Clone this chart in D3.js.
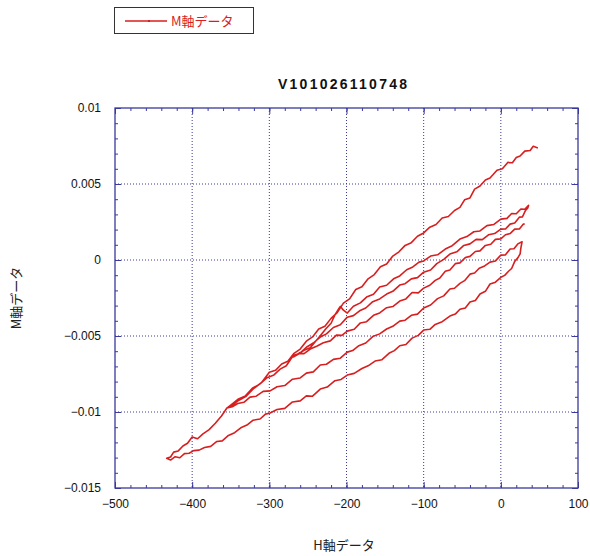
<!DOCTYPE html>
<html>
<head>
<meta charset="utf-8">
<script src="https://cdn.jsdelivr.net/npm/d3@7"></script>
<style>
body { margin: 0; background: #fff; }
</style>
</head>
<body>
<div id="chart"></div>
<script>
// ---- data (H, M) pairs, one array per sweep ----
let sweepA = [[48,0.00737],[42,0.00748],[38,0.0072],[31,0.00716],[25,0.00684],[20,0.00674],[15,0.0064],[9,0.00642],[2,0.006],[-5,0.00591],[-14,0.0054],[-20,0.00526],[-27,0.00487],[-34,0.00466],[-40,0.00408],[-47,0.00396],[-53,0.00346],[-60,0.00326],[-68,0.00286],[-76,0.00276],[-84,0.00234],[-92,0.00216],[-100,0.00178],[-108,0.00156],[-116,0.00114],[-124,0.00096],[-132,0.00054],[-140,0.00026],[-148,-0.00026],[-156,-0.00044],[-164,-0.00096],[-172,-0.00124],[-180,-0.00176],[-188,-0.00194],[-196,-0.00256],[-204,-0.00284],[-212,-0.00346],[-220,-0.00384],[-228,-0.00436],[-236,-0.00454],[-244,-0.00506],[-252,-0.00534],[-260,-0.00586],[-268,-0.00614],[-276,-0.00666],[-284,-0.00684],[-292,-0.00726],[-300,-0.00739],[-310,-0.00806],[-320,-0.00844],[-330,-0.00896],[-340,-0.00924],[-348,-0.00956],[-355,-0.00974],[-362,-0.01026],[-370,-0.01074],[-378,-0.01116],[-386,-0.01144],[-393,-0.01176],[-400,-0.01164],[-406,-0.01206],[-412,-0.01224],[-418,-0.01256],[-424,-0.01264],[-428,-0.01296],[-433,-0.01305]];
let sweepF = [[-433,-0.01305],[-428,-0.01316],[-422,-0.01294],[-416,-0.01301],[-410,-0.01274],[-404,-0.01271],[-398,-0.01254],[-391,-0.01251],[-384,-0.01234],[-376,-0.01226],[-368,-0.01194],[-361,-0.0119],[-353,-0.01154],[-345,-0.01136],[-337,-0.01104],[-329,-0.01086],[-321,-0.01054],[-312,-0.01046],[-305,-0.01014],[-299,-0.01006],[-290,-0.00984],[-280,-0.00976],[-270,-0.00934],[-260,-0.00927],[-252,-0.00894],[-244,-0.00896],[-234,-0.00849],[-225,-0.00836],[-215,-0.00794],[-207,-0.00786],[-199,-0.00757],[-190,-0.00746],[-180,-0.00714],[-172,-0.00696],[-163,-0.00665],[-154,-0.00656],[-145,-0.00614],[-138,-0.00596],[-131,-0.00564],[-123,-0.00556],[-115,-0.00514],[-107,-0.00496],[-100,-0.00461],[-92,-0.00456],[-85,-0.00424],[-76,-0.00406],[-66,-0.00369],[-59,-0.00356],[-53,-0.00324],[-46,-0.00316],[-40,-0.00277],[-33,-0.00266],[-27,-0.00224],[-20,-0.00206],[-14,-0.00158],[-7,-0.00146],[0,-0.00114],[5,-0.00101],[10,-0.00074],[14,-0.00056],[18,-0.00009],[22,0.00014],[25,0.0004],[26,0.0008],[27.5,0.0012]];
let sweepE = [[27.5,0.0012],[22,0.00106],[17,0.00074],[12,0.00072],[6,0.00034],[0,0.00032],[-7,-0.00006],[-14,-0.00014],[-21,-0.00039],[-28,-0.00054],[-34,-0.00086],[-40,-0.00093],[-47,-0.00136],[-53,-0.00154],[-60,-0.00186],[-66,-0.00191],[-74,-0.00236],[-82,-0.00254],[-91,-0.00296],[-100,-0.00316],[-108,-0.00356],[-116,-0.00364],[-124,-0.00396],[-131,-0.00402],[-140,-0.00436],[-148,-0.00454],[-157,-0.00486],[-166,-0.00504],[-175,-0.00546],[-184,-0.00564],[-192,-0.00596],[-199,-0.00606],[-208,-0.00646],[-217,-0.00654],[-226,-0.00686],[-234,-0.00691],[-243,-0.00736],[-252,-0.00744],[-260,-0.00776],[-270,-0.00784],[-280,-0.00826],[-290,-0.00834],[-299,-0.00861],[-308,-0.00864],[-317,-0.00896],[-325,-0.00902],[-333,-0.00936],[-341,-0.00944],[-348,-0.00966],[-355,-0.00974]];
let sweepB = [[-355,-0.00974],[-348,-0.00946],[-340,-0.00914],[-331,-0.00894],[-322,-0.00844],[-312,-0.00815],[-303,-0.00774],[-294,-0.00756],[-286,-0.00718],[-278,-0.00696],[-269,-0.00629],[-262,-0.00616],[-255,-0.00594],[-247,-0.00578],[-240,-0.00534],[-234,-0.00499],[-227,-0.00454],[-220,-0.00416],[-215,-0.00362],[-210,-0.0032],[-208,-0.00305],[-204,-0.0033],[-199,-0.00349],[-191,-0.00304],[-182,-0.00282],[-174,-0.00244],[-165,-0.00226],[-157,-0.00178],[-148,-0.00166],[-139,-0.00124],[-131,-0.00105],[-122,-0.00064],[-114,-0.00046],[-106,-0.00014],[-100,-0.00006],[-91,0.00026],[-82,0.00034],[-72,0.00072],[-63,0.00094],[-53,0.00138],[-44,0.00154],[-35,0.00186],[-27,0.00191],[-18,0.00226],[-9,0.00234],[0,0.00269],[8,0.00274],[14,0.00306],[20,0.00304],[26,0.00336],[31,0.00334],[35,0.00355],[36,0.0036]];
let sweepC = [[36,0.0036],[35,0.00343],[32,0.00326],[28,0.00284],[24,0.00282],[18,0.00244],[12,0.00236],[6,0.00204],[0,0.00203],[-8,0.00174],[-16,0.00166],[-24,0.00134],[-32,0.00136],[-40,0.00106],[-48,0.00096],[-57,0.00054],[-66,0.00039],[-74,0.00004],[-83,-0.00024],[-91,-0.00066],[-100,-0.0008],[-108,-0.00116],[-116,-0.00124],[-124,-0.00156],[-131,-0.00165],[-140,-0.00206],[-148,-0.00224],[-157,-0.00256],[-166,-0.00274],[-175,-0.00316],[-183,-0.00334],[-191,-0.00366],[-199,-0.00376],[-208,-0.00426],[-217,-0.00444],[-226,-0.00486],[-234,-0.00507],[-243,-0.00546],[-252,-0.00574],[-261,-0.00616],[-269,-0.00638]];
let sweepD = [[-269,-0.00638],[-262,-0.00614],[-255,-0.00616],[-247,-0.00586],[-238,-0.00566],[-230,-0.00544],[-221,-0.00532],[-213,-0.00494],[-206,-0.00496],[-199,-0.00468],[-190,-0.00456],[-182,-0.00414],[-174,-0.00406],[-165,-0.00364],[-157,-0.00348],[-148,-0.00314],[-140,-0.00306],[-131,-0.0027],[-123,-0.00256],[-115,-0.00214],[-107,-0.00216],[-100,-0.00185],[-92,-0.00166],[-85,-0.00134],[-79,-0.00118],[-72,-0.00074],[-66,-0.00066],[-59,-0.00024],[-53,-0.00019],[-46,0.00016],[-40,0.00024],[-33,0.00056],[-27,0.0006],[-20,0.00096],[-13,0.00104],[-7,0.00136],[0,0.00139],[6,0.00166],[12,0.00174],[18,0.00203],[24,0.00204],[29,0.00236],[31,0.00237]];

let xTicks = [-500, -400, -300, -200, -100, 0, 100];
let yTicks = [-0.015, -0.01, -0.005, 0, 0.005, 0.01];
let xMinor = d3.range(-500, 101, 20);
let yMinor = d3.range(-15, 11).map(d => d / 1000);

let titleText = "V101026110748";
let seriesName = "M軸データ";
let xLabel = "H軸データ";
let yLabel = "M軸データ";

// ---- layout ----
let width = 590;
let height = 556;
let plot = { left: 115, right: 578, top: 108, bottom: 488 };
let axisColor = "#3a3a9c";
let lineColor = "#d81e1e";
let font = "'Liberation Sans', Arial, sans-serif";
let cjk = "'Noto Sans CJK JP', sans-serif";

function translate (x, y) {
    return `translate(${ x }, ${ y })`;
}

let svg = d3.select("#chart").append("svg")
    .attr("width", width)
    .attr("height", height);

let xScale = d3.scaleLinear().domain([-500, 100]).range([plot.left, plot.right]);
let yScale = d3.scaleLinear().domain([-0.015, 0.01]).range([plot.bottom, plot.top]);
let fmt = d => d === 0 ? "0" : d3.format("~g")(d);

// dotted grid
function drawGrid () {
    let g = svg.append("g");
    g.selectAll(".gx").data(xTicks.slice(1, -1)).join("line")
        .attr("class", "gx")
        .attr("x1", d => xScale(d)).attr("x2", d => xScale(d))
        .attr("y1", plot.top).attr("y2", plot.bottom);
    g.selectAll(".gy").data(yTicks.slice(1, -1)).join("line")
        .attr("class", "gy")
        .attr("x1", plot.left).attr("x2", plot.right)
        .attr("y1", d => yScale(d)).attr("y2", d => yScale(d));
    g.selectAll("line")
        .attr("stroke", axisColor)
        .attr("stroke-width", 1)
        .attr("stroke-dasharray", "1,2");
}

// axes on all four sides, ticks inside
function drawAxes () {
    let defs = [
        { make: d3.axisBottom, scale: xScale, pos: translate(0, plot.bottom), major: xTicks, minor: xMinor, labels: true, pad: 11 },
        { make: d3.axisTop, scale: xScale, pos: translate(0, plot.top), major: xTicks, minor: xMinor, labels: false, pad: 3 },
        { make: d3.axisLeft, scale: yScale, pos: translate(plot.left, 0), major: yTicks, minor: yMinor, labels: true, pad: 14 },
        { make: d3.axisRight, scale: yScale, pos: translate(plot.right, 0), major: yTicks, minor: yMinor, labels: false, pad: 3 },
    ];
    defs.forEach(def => {
        let minorAxis = def.make(def.scale).tickValues(def.minor).tickSizeInner(-3).tickSizeOuter(0).tickFormat("");
        svg.append("g").attr("transform", def.pos).call(minorAxis);
        let majorAxis = def.make(def.scale).tickValues(def.major).tickSizeInner(-6).tickSizeOuter(0)
            .tickPadding(def.pad)
            .tickFormat(def.labels ? fmt : "");
        svg.append("g").attr("transform", def.pos).call(majorAxis);
    });
    svg.selectAll(".domain").remove();
    svg.selectAll(".tick line").attr("stroke", axisColor);
    svg.selectAll(".tick text")
        .attr("fill", "#111")
        .style("font-family", font)
        .style("font-size", "12px");
    svg.append("rect")
        .attr("x", plot.left).attr("y", plot.top)
        .attr("width", plot.right - plot.left).attr("height", plot.bottom - plot.top)
        .attr("fill", "none").attr("stroke", axisColor).attr("stroke-width", 1.3);
}

function drawCurve () {
    let data = [].concat(sweepA, sweepF, sweepE, sweepB, sweepC, sweepD);
    let line = d3.line().x(d => xScale(d[0])).y(d => yScale(d[1]));
    svg.append("path")
        .datum(data)
        .attr("d", line)
        .attr("fill", "none")
        .attr("stroke", lineColor)
        .attr("stroke-width", 1.6)
        .attr("stroke-linejoin", "round");
}

function drawTexts () {
    svg.append("text")
        .attr("x", 342.5).attr("y", 89)
        .attr("text-anchor", "middle")
        .attr("textLength", 129)
        .style("font-family", font).style("font-weight", "bold").style("font-size", "14px")
        .attr("fill", "#111")
        .text(titleText);
    svg.append("text")
        .attr("x", 344).attr("y", 550)
        .attr("text-anchor", "middle")
        .style("font-family", cjk).style("font-size", "13px")
        .attr("fill", "#222")
        .text(xLabel);
    svg.append("text")
        .attr("transform", translate(21, 298) + " rotate(-90)")
        .attr("text-anchor", "middle")
        .style("font-family", cjk).style("font-size", "13px")
        .attr("fill", "#222")
        .text(yLabel);

    // legend
    let lg = svg.append("g");
    lg.append("rect")
        .attr("x", 114.5).attr("y", 7.5).attr("width", 139).attr("height", 26)
        .attr("fill", "#fff").attr("stroke", "#333").attr("stroke-width", 1);
    lg.append("line")
        .attr("x1", 125).attr("x2", 167).attr("y1", 21).attr("y2", 21)
        .attr("stroke", lineColor).attr("stroke-width", 1.3);
    lg.append("rect")
        .attr("x", 148).attr("y", 20).attr("width", 2).attr("height", 2)
        .attr("fill", lineColor);
    lg.append("text")
        .attr("x", 171).attr("y", 26)
        .style("font-family", cjk).style("font-size", "13px")
        .attr("fill", lineColor)
        .text(seriesName);
}

drawGrid();
drawAxes();
drawCurve();
drawTexts();
</script>
</body>
</html>
